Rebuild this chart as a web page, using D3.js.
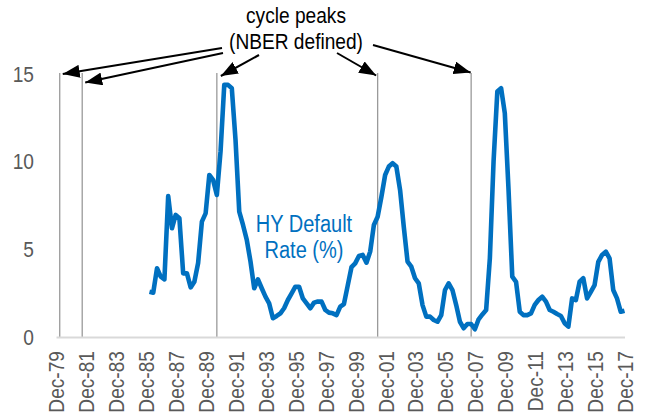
<!DOCTYPE html>
<html>
<head>
<meta charset="utf-8">
<script src="https://cdn.jsdelivr.net/npm/d3@7"></script>
<style>
  body { margin: 0; background: #fff; }
  svg text { font-family: "Liberation Sans Narrow", "Liberation Sans", Arial, sans-serif; }
</style>
</head>
<body>
<script>
// Quarterly HY default rate (%), first value is Mar-86
var firstQuarter = "Mar-86";
var hyDefaultRate = [
  2.58, 2.53, 3.92, 3.44, 3.29, 8.04, 6.2, 6.96, 6.77, 3.63, 3.63, 2.83,
  3.15, 4.22, 6.58, 7.05, 9.24, 8.96, 8.1, 10.6, 14.38, 14.38, 14.19, 11.24,
  7.15, 6.39, 5.54, 4.3, 2.78, 3.29, 2.78, 2.3, 1.92, 1.07, 1.2, 1.35,
  1.64, 2.11, 2.49, 2.87, 2.87, 2.2, 1.92, 1.64, 1.96, 2.02, 2.02, 1.54,
  1.39, 1.35, 1.25, 1.73, 1.88, 2.93, 3.98, 4.2, 4.62, 4.68, 4.24, 4.87,
  6.39, 6.86, 8.0, 9.24, 9.72, 9.91, 9.72, 8.38, 6.29, 4.3, 4.01, 3.35,
  3.06, 1.82, 1.16, 1.16, 0.97, 0.87, 1.25, 2.68, 3.06, 2.68, 1.82, 0.87,
  0.5, 0.74, 0.74, 0.44, 1.01, 1.29, 1.54, 4.5, 10.0, 14.0, 14.19, 12.76,
  8.44, 3.44, 3.15, 1.44, 1.25, 1.25, 1.35, 1.83, 2.11, 2.3, 2.02, 1.54,
  1.44, 1.31, 1.2, 0.78, 0.59, 2.2, 2.11, 3.15, 3.35, 2.2, 2.58, 2.96,
  4.29, 4.68, 4.87, 4.49, 2.68, 2.2, 1.44, 1.5
];

// Cycle peak markers (as drawn on the chart)
var cyclePeaks = ["Mar-80", "Sep-81", "Sep-90", "Jun-01", "Sep-07"];

// Axis ticks
var xTickLabels = ["Dec-79", "Dec-81", "Dec-83", "Dec-85", "Dec-87", "Dec-89",
  "Dec-91", "Dec-93", "Dec-95", "Dec-97", "Dec-99", "Dec-01", "Dec-03",
  "Dec-05", "Dec-07", "Dec-09", "Dec-11", "Dec-13", "Dec-15", "Dec-17"];
var yTicks = [0, 5, 10, 15];

var svgWidth = 645;
var svgHeight = 417;

// the reference uses a narrow face, so squeeze the regular one
var squeeze = 0.87;

var parseMonth = d3.timeParse("%b-%y");
var formatMonth = d3.timeFormat("%b-%y");

// Build the dated series
var start = parseMonth(firstQuarter);
var series = hyDefaultRate.map(function(v, i) {
  return { date: d3.timeMonth.offset(start, i * 3), value: v };
});

var svg = d3.select("body")
  .append("svg")
  .attr("width", svgWidth)
  .attr("height", svgHeight);

var xScale = d3.scaleTime()
  .domain([parseMonth(xTickLabels[0]), parseMonth(xTickLabels[xTickLabels.length - 1])])
  .range([56, 624.5]);

var yScale = d3.scaleLinear()
  .domain([0, 15])
  .range([337, 74]);

// Arrow head marker
svg.append("defs").append("marker")
  .attr("id", "arrow")
  .attr("markerUnits", "userSpaceOnUse")
  .attr("viewBox", "0 0 17 13")
  .attr("refX", 17)
  .attr("refY", 6.5)
  .attr("markerWidth", 17)
  .attr("markerHeight", 13)
  .attr("orient", "auto")
  .append("path")
  .attr("d", "M0,0 L17,6.5 L0,13 Z")
  .attr("fill", "#000");

// Cycle peak lines
svg.append("g")
  .selectAll("line")
  .data(cyclePeaks)
  .enter()
  .append("line")
  .attr("x1", d => xScale(parseMonth(d)))
  .attr("x2", d => xScale(parseMonth(d)))
  .attr("y1", yScale(15) - 1)
  .attr("y2", yScale(0))
  .attr("stroke", "#9a9a9a")
  .attr("stroke-width", 1.3);

// x axis
var bottomAxis = d3.axisBottom(xScale)
  .tickValues(xTickLabels.map(parseMonth))
  .tickFormat(formatMonth)
  .tickSize(0);

var xAxisGroup = svg.append("g")
  .attr("transform", "translate(0," + yScale(0) + ")")
  .call(bottomAxis);

xAxisGroup.select(".domain")
  .attr("stroke", "#d9d9d9")
  .attr("stroke-width", 2);

xAxisGroup.selectAll("text")
  .attr("transform", "rotate(-90) scale(" + squeeze + ",1)")
  .attr("x", -14 / squeeze)
  .attr("y", 0)
  .attr("dy", "0.36em")
  .style("text-anchor", "end")
  .style("font-size", "22px")
  .attr("fill", "#595959");

// y axis
var leftAxis = d3.axisLeft(yScale)
  .tickValues(yTicks)
  .tickSize(0);

var yAxisGroup = svg.append("g")
  .attr("transform", "translate(56,0)")
  .call(leftAxis);

yAxisGroup.select(".domain").remove();
yAxisGroup.selectAll("text")
  .attr("transform", "scale(" + squeeze + ",1)")
  .attr("x", -22 / squeeze)
  .style("font-size", "22px")
  .attr("fill", "#595959");

// HY default line
var drawLine = d3.line()
  .x(d => xScale(d.date))
  .y(d => yScale(d.value));

svg.append("path")
  .attr("d", drawLine(series))
  .attr("fill", "none")
  .attr("stroke", "#0070c0")
  .attr("stroke-width", 4.6)
  .attr("stroke-linejoin", "round");

// Squeezed multi-line text helper
function addLines(x, y, lines, size, colour, gap) {
  var t = svg.append("text")
    .attr("transform", "translate(" + x + "," + y + ") scale(" + squeeze + ",1)")
    .attr("text-anchor", "middle")
    .attr("fill", colour)
    .style("font-size", size + "px");
  lines.forEach(function(line, i) {
    t.append("tspan").attr("x", 0).attr("y", i * gap).text(line);
  });
}

// Series label
addLines(304, 232, ["HY Default", "Rate (%)"], 23, "#0070c0", 26);

// Annotation text
addLines(296, 23, ["cycle peaks", "(NBER defined)"], 22, "#000", 26);

// Arrows from the note to each peak line
var arrowTails = [[222, 48], [223, 53], [259, 55], [337, 53], [373, 45]];
var arrowTips = [[3, 0], [3, 8.5], [4, 2], [-1.5, 1.5], [-0.5, -1.5]];

svg.append("g")
  .selectAll("line")
  .data(cyclePeaks)
  .enter()
  .append("line")
  .attr("x1", (d, i) => arrowTails[i][0])
  .attr("y1", (d, i) => arrowTails[i][1])
  .attr("x2", (d, i) => xScale(parseMonth(d)) + arrowTips[i][0])
  .attr("y2", (d, i) => yScale(15) + arrowTips[i][1])
  .attr("stroke", "#000")
  .attr("stroke-width", 2)
  .attr("marker-end", "url(#arrow)");
</script>
</body>
</html>
